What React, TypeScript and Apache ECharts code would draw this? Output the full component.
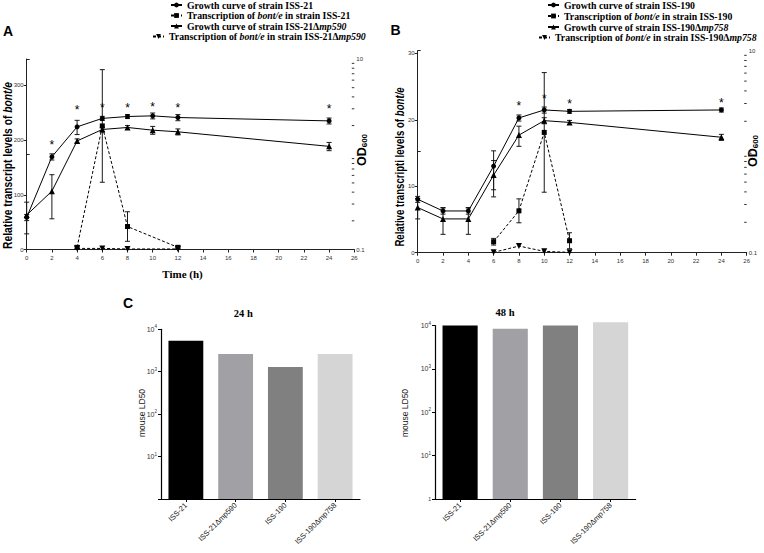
import React, { useEffect, useRef } from 'react';
import * as echarts from 'echarts';

// ---------- data ----------
const timesGrowth = [0, 2, 4, 6, 8, 10, 12, 24];
const timesTransA = [4, 6, 8, 12];
const timesTransB = [6, 8, 10, 12];

// Panel A (OD600, log axis)
const odA_wt = [0.217, 0.94, 1.94, 2.38, 2.49, 2.53, 2.43, 2.24];
const odA_wtSd = [0.016, 0.07, 0.33, 0.12, 0.12, 0.18, 0.18, 0.16];
const odA_mut = [0.23, 0.41, 1.38, 1.82, 1.91, 1.79, 1.72, 1.21];
const odA_mutSd = [0.084, 0.2, 0.07, 0.09, 0.09, 0.17, 0.125, 0.12];
// Panel A transcript levels
const trA_wt = [4, 226, 42, 4];
const trA_wtSd = [3, 103, 27, 3];
const trA_mut = [2, 2, 1, 1];

// Panel B
const odB_wt = [0.338, 0.259, 0.259, 0.72, 2.16, 2.59, 2.51, 2.59];
const odB_wtSd = [0.023, 0.018, 0.018, 0.3, 0.15, 0.18, 0.11, 0.12];
const odB_mut = [0.28, 0.216, 0.216, 0.587, 1.46, 2.03, 1.95, 1.39];
const odB_mutSd = [0.064, 0.064, 0.064, 0.23, 0.33, 0.14, 0.09, 0.095];
const trB_wt = [1.65, 6.3, 18.1, 1.8];
const trB_wtSd = [0.5, 1.8, 9, 1.2];
const trB_mut = [0.05, 1.0, 0.2, 0.05];

// significance marks (time points) and their gap above the point
const starsA = [2, 4, 6, 8, 10, 12, 24];
const starGapA = [12, 17, 11, 9, 9, 10, 12];
const starsB = [8, 10, 12, 24];
const starGapB = [12, 11, 8, 7];

// Panel C
const strains = ['ISS-21', 'ISS-21\u0394mp590', 'ISS-190', 'ISS-190\u0394mp758'];
const ld50_24h = [5400, 2600, 1300, 2600];
const ld50_48h = [10000, 8400, 10000, 11900];
const barColors = ['#000000', '#a1a1a5', '#808080', '#d5d5d5'];

const odMinorTicks = [0.2, 0.3, 0.4, 0.5, 0.6, 0.7, 0.8, 0.9, 2, 3, 4, 5, 6, 7, 8, 9];

const nA = [
  'Growth curve of strain ISS-21',
  'Transcription of bont/e in strain ISS-21',
  'Growth curve of strain ISS-21\u0394mp590',
  'Transcription of bont/e in strain ISS-21\u0394mp590',
];
const nB = [
  'Growth curve of strain ISS-190',
  'Transcription of bont/e in strain ISS-190',
  'Growth curve of strain ISS-190\u0394mp758',
  'Transcription of bont/e in strain ISS-190\u0394mp758',
];

// ---------- helpers ----------
const SERIF = 'Liberation Serif';
const SANS = 'Liberation Sans';

const richName = (n: string) => '{b|' + n.replace(/(bont\/e|mp\d+)/g, '}{i|$1}{b|') + '}';
const legendRich = {
  b: { fontFamily: SERIF, fontWeight: 'bold', fontSize: 9.8, color: '#000' },
  i: { fontFamily: SERIF, fontWeight: 'bold', fontStyle: 'italic', fontSize: 9.8, color: '#000' },
};

const legendItem = (name: string, left: number, top: number) => ({
  data: [name],
  left,
  top,
  padding: 0,
  itemWidth: 11,
  itemHeight: 6,
  selectedMode: false,
  formatter: richName,
  textStyle: { rich: legendRich, fontSize: 9.8 },
});

const errSeries = (xi: number, yi: number, times: number[], vals: number[], sds: number[]) => ({
  type: 'custom',
  xAxisIndex: xi,
  yAxisIndex: yi,
  silent: true,
  clip: false,
  z: 3,
  data: times.map((t, i) => [t, vals[i] - sds[i], vals[i] + sds[i]]),
  renderItem: (params: any, api: any) => {
    const lo = api.coord([api.value(0), api.value(1)]);
    const hi = api.coord([api.value(0), api.value(2)]);
    const w = 2.5;
    const style = { stroke: '#1a1a1a', lineWidth: 1 };
    return {
      type: 'group',
      children: [
        { type: 'line', shape: { x1: lo[0], y1: lo[1], x2: hi[0], y2: hi[1] }, style },
        { type: 'line', shape: { x1: lo[0] - w, y1: lo[1], x2: lo[0] + w, y2: lo[1] }, style },
        { type: 'line', shape: { x1: hi[0] - w, y1: hi[1], x2: hi[0] + w, y2: hi[1] }, style },
      ],
    };
  },
});

const minorTickSeries = (xi: number, yi: number) => ({
  type: 'custom',
  xAxisIndex: xi,
  yAxisIndex: yi,
  silent: true,
  clip: false,
  data: odMinorTicks.map((v) => [26, v]),
  renderItem: (params: any, api: any) => {
    const c = api.coord([api.value(0), api.value(1)]);
    return {
      type: 'line',
      shape: { x1: c[0] - 2.5, y1: c[1], x2: c[0], y2: c[1] },
      style: { stroke: '#333', lineWidth: 1 },
    };
  },
});

const growthSeries = (
  name: string, xi: number, yi: number, vals: number[], symbol: string, size: number,
  stars: number[] | null, gaps: number[] | null
) => ({
  name,
  type: 'line',
  xAxisIndex: xi,
  yAxisIndex: yi,
  symbol,
  symbolSize: size,
  showAllSymbol: true,
  z: 4,
  itemStyle: { color: '#000' },
  lineStyle: { color: '#000', width: 1 },
  label: { show: false, position: 'top', formatter: '*', fontSize: 12, fontFamily: SANS, color: '#000' },
  data: timesGrowth.map((t, i) => {
    const k = stars ? stars.indexOf(t) : -1;
    return {
      value: [t, vals[i]],
      label: k >= 0 ? { show: true, distance: (gaps as number[])[k] - 9 } : { show: false },
    };
  }),
});

const transSeries = (
  name: string, xi: number, yi: number, times: number[], vals: number[], symbol: string, size: number, rotate: number
) => ({
  name,
  type: 'line',
  xAxisIndex: xi,
  yAxisIndex: yi,
  symbol,
  symbolSize: size,
  symbolRotate: rotate,
  z: 4,
  itemStyle: { color: '#000' },
  lineStyle: { color: '#000', width: 1, type: [3, 2] },
  data: times.map((t, i) => [t, vals[i]]),
});

const axisLineStyle = { show: true, lineStyle: { color: '#222', width: 1 } };
const tinyLabel = { fontSize: 6, fontFamily: SANS, color: '#333' };

const timeAxis = (grid: number, show: boolean) => ({
  type: 'value',
  gridIndex: grid,
  show,
  min: 0,
  max: 26,
  interval: 2,
  axisLine: { ...axisLineStyle, onZero: false },
  axisTick: { show: true, length: 3, lineStyle: { color: '#222' } },
  axisLabel: { ...tinyLabel, margin: 5 },
  splitLine: { show: false },
});

const linAxis = (grid: number, max: number, interval: number, showMax: boolean) => ({
  type: 'value',
  gridIndex: grid,
  position: 'left',
  min: 0,
  max,
  interval,
  axisLine: axisLineStyle,
  axisTick: { show: true, length: 3, lineStyle: { color: '#222' } },
  axisLabel: { ...tinyLabel, margin: 3, showMaxLabel: showMax },
  splitLine: { show: false },
});

const odAxis = (grid: number) => ({
  type: 'log',
  logBase: 10,
  gridIndex: grid,
  position: 'right',
  min: 0.1,
  max: 10,
  axisLine: axisLineStyle,
  axisTick: { show: true, length: 3, lineStyle: { color: '#222' } },
  axisLabel: { ...tinyLabel, margin: 2 },
  splitLine: { show: false },
});

const catAxis = (grid: number) => ({
  type: 'category',
  gridIndex: grid,
  data: strains,
  axisLine: { show: true, lineStyle: { color: '#000', width: 1.2 } },
  axisTick: { show: true, alignWithLabel: true, length: 3, lineStyle: { color: '#000' } },
  axisLabel: { rotate: 45, fontSize: 7.5, fontFamily: SANS, color: '#222', margin: 5, interval: 0 },
});

const ldAxis = (grid: number, showOne: boolean) => ({
  type: 'log',
  logBase: 10,
  gridIndex: grid,
  min: 1,
  max: 10000,
  axisLine: { show: true, lineStyle: { color: '#000', width: 1.2 } },
  axisTick: { show: true, length: 3, lineStyle: { color: '#000' } },
  axisLabel: {
    fontSize: 7,
    fontFamily: SANS,
    color: '#333',
    margin: 4,
    formatter: (v: number) => {
      const n = Math.round(Math.log10(v));
      if (n === 0) return showOne ? '{o|1}' : '';
      return '10{s|' + n + '}';
    },
    rich: {
      s: { fontSize: 4.5, fontFamily: SANS, color: '#333', padding: [0, 0, 5, 0] },
      o: { fontSize: 5, fontFamily: SANS, color: '#333' },
    },
  },
  splitLine: { show: false },
});

const barSeries = (xi: number, vals: number[]) => ({
  type: 'bar',
  xAxisIndex: xi,
  yAxisIndex: xi,
  barWidth: '70%',
  clip: false,
  data: vals.map((v, i) => ({ value: v, itemStyle: { color: barColors[i] } })),
});

const yNameRich = {
  b: { fontFamily: SANS, fontWeight: 'bold', fontSize: 12.5, color: '#000' },
  i: { fontFamily: SANS, fontWeight: 'bold', fontStyle: 'italic', fontSize: 12.5, color: '#000' },
};
const odRich = {
  o: { fontFamily: SANS, fontWeight: 'bold', fontSize: 12.5, color: '#000', padding: [0, 0, 4, 0] },
  s: { fontFamily: SANS, fontWeight: 'bold', fontSize: 8, color: '#000' },
};

const rotText = (x: number, y: number, text: string, rich: any, sx: number) => ({
  type: 'text',
  x,
  y,
  rotation: Math.PI / 2,
  scaleX: sx,
  style: { text, rich, align: 'center', verticalAlign: 'middle', fill: '#000' },
});

const plainText = (x: number, y: number, text: string, font: string, size: number, weight: string) => ({
  type: 'text',
  x,
  y,
  style: {
    text,
    fontFamily: font,
    fontSize: size,
    fontWeight: weight,
    fill: '#000',
    align: 'center',
    verticalAlign: 'middle',
  },
});

export default function App() {
  const ref = useRef<HTMLDivElement>(null);
  useEffect(() => {
    if (!ref.current) return;
    const chart = echarts.init(ref.current, undefined, { renderer: 'svg' });
    const option: any = {
      animation: false,
      backgroundColor: '#fff',
      legend: [
        legendItem(nA[0], 170, 0),
        legendItem(nA[1], 170, 10.5),
        legendItem(nA[2], 170, 21),
        legendItem(nA[3], 152, 31.5),
        legendItem(nB[0], 547, 0),
        legendItem(nB[1], 547, 11),
        legendItem(nB[2], 547, 22),
        legendItem(nB[3], 538, 32.5),
      ],
      grid: [
        { left: 26.7, top: 68, width: 327.6, height: 181.5 },
        { left: 26.7, top: 59, width: 327.6, height: 190.5 },
        { left: 417.7, top: 53.3, width: 329, height: 199.4 },
        { left: 417.7, top: 50.7, width: 329, height: 202 },
        { left: 161, top: 329.3, width: 199, height: 169.7 },
        { left: 435, top: 325.5, width: 200.7, height: 173.5 },
      ],
      xAxis: [
        timeAxis(0, true),
        timeAxis(1, false),
        timeAxis(2, true),
        timeAxis(3, false),
        catAxis(4),
        catAxis(5),
      ],
      yAxis: [
        linAxis(0, 332, 100, false),
        odAxis(1),
        linAxis(2, 30, 10, true),
        odAxis(3),
        ldAxis(4, false),
        ldAxis(5, true),
      ],
      series: [
        // Panel A
        errSeries(1, 1, timesGrowth, odA_wt, odA_wtSd),
        errSeries(1, 1, timesGrowth, odA_mut, odA_mutSd),
        errSeries(0, 0, timesTransA, trA_wt, trA_wtSd),
        growthSeries(nA[0], 1, 1, odA_wt, 'circle', 5, starsA, starGapA),
        transSeries(nA[1], 0, 0, timesTransA, trA_wt, 'rect', 5, 0),
        growthSeries(nA[2], 1, 1, odA_mut, 'triangle', 6, null, null),
        transSeries(nA[3], 0, 0, timesTransA, trA_mut, 'triangle', 6, 180),
        minorTickSeries(1, 1),
        // Panel B
        errSeries(3, 3, timesGrowth, odB_wt, odB_wtSd),
        errSeries(3, 3, timesGrowth, odB_mut, odB_mutSd),
        errSeries(2, 2, timesTransB, trB_wt, trB_wtSd),
        growthSeries(nB[0], 3, 3, odB_wt, 'circle', 5, starsB, starGapB),
        transSeries(nB[1], 2, 2, timesTransB, trB_wt, 'rect', 5, 0),
        growthSeries(nB[2], 3, 3, odB_mut, 'triangle', 6, null, null),
        transSeries(nB[3], 2, 2, timesTransB, trB_mut, 'triangle', 6, 180),
        minorTickSeries(3, 3),
        // Panel C
        barSeries(4, ld50_24h),
        barSeries(5, ld50_48h),
      ],
      graphic: [
        plainText(8, 30.5, 'A', SANS, 14, 'bold'),
        plainText(395.5, 30, 'B', SANS, 14, 'bold'),
        plainText(128, 303, 'C', SANS, 14, 'bold'),
        rotText(7.5, 165.5, '{b|Relative transcript levels of }{i|bont/e}', yNameRich, 0.82),
        rotText(400, 167, '{b|Relative transcripti levels of }{i|bont/e}', yNameRich, 0.77),
        rotText(364, 150, '{o|OD}{s|600}', odRich, 1),
        rotText(755, 151, '{o|OD}{s|600}', odRich, 1),
        plainText(182.5, 274, 'Time (h)', SERIF, 11, 'bold'),
        plainText(243.3, 313.3, '24 h', SERIF, 10.5, 'bold'),
        plainText(505, 312, '48 h', SERIF, 10.5, 'bold'),
        {
          type: 'text', x: 141.7, y: 413, rotation: Math.PI / 2,
          style: { text: 'mouse LD50', fontFamily: SANS, fontSize: 8.5, fill: '#222', align: 'center', verticalAlign: 'middle' },
        },
        {
          type: 'text', x: 405, y: 413, rotation: Math.PI / 2,
          style: { text: 'mouse LD50', fontFamily: SANS, fontSize: 8.5, fill: '#222', align: 'center', verticalAlign: 'middle' },
        },
      ],
    };
    chart.setOption(option);
    return () => chart.dispose();
  }, []);
  return (
    <div
      ref={ref}
      style={{ position: 'fixed', left: 0, top: 0, width: 764, height: 553, background: '#fff' }}
    />
  );
}
